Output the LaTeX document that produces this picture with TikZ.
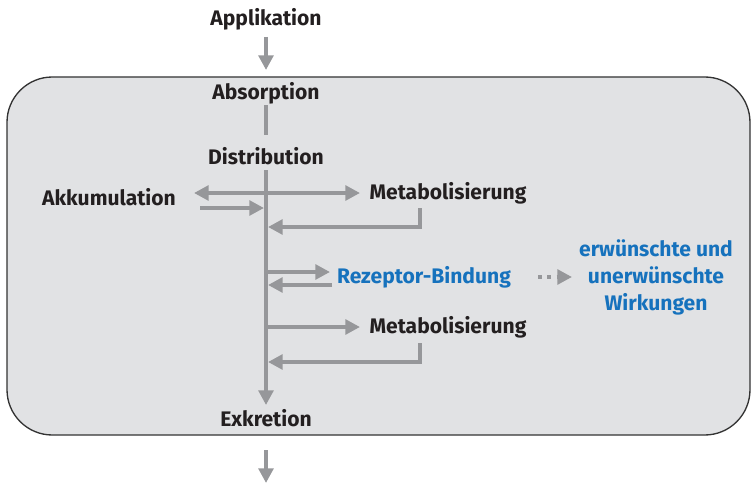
\documentclass[tikz,border=0pt]{standalone}
\usepackage{fontspec}
\setmainfont{Fira Sans}
\usetikzlibrary{arrows.meta}

\definecolor{pfeilgrau}{RGB}{150,151,154}
\definecolor{kastengrau}{RGB}{225,226,228}
\definecolor{textblau}{RGB}{22,114,189}
\definecolor{textschwarz}{RGB}{35,31,32}

\begin{document}
\begin{tikzpicture}[x=0.75pt,y=-0.75pt]
\tikzstyle{every node}+=[inner sep=0pt,font=\fontsize{15.8}{20.3}\selectfont\bfseries,text=textschwarz]
\tikzstyle{pfeil}=[draw=pfeilgrau,line width=3pt,-{Triangle[length=11pt,width=11pt]}]
\tikzstyle{linie}=[draw=pfeilgrau,line width=3pt]
\tikzstyle{punktpfeil}=[draw=pfeilgrau,line width=3pt,dash pattern=on 3pt off 4pt,-{Triangle[length=11pt,width=11pt]}]
\tikzstyle{blau}=[text=textblau,align=center]
\useasboundingbox (0,0) rectangle (753,485);
% Kasten
\draw [draw=black!80,fill=kastengrau,line width=1pt,rounded corners=34pt] (7,77) rectangle (750,435);
% Stationen
\node (appl) at (266,19) {Applikation};
\node (abs) at (266,93) {Absorption};
\node (dist) at (266,156) {Distribution};
\node (akk) at (109,197) {Akkumulation};
\node (met1) at (448,193) {Metabolisierung};
\node [blau] (rez) at (424,277) {Rezeptor-Bindung};
\node [blau] (wirk) at (656,277) {erwünschte und\\unerwünschte\\Wirkungen};
\node (met2) at (448,327) {Metabolisierung};
\node (exk) at (266,418) {Exkretion};
% Punkte
\coordinate (a0) at (266,37);
\coordinate (a1) at (266,70);
\coordinate (b0) at (266,105);
\coordinate (b1) at (266,135);
\coordinate (d0) at (266,170);
\coordinate (d1) at (266,193);
\coordinate (d2) at (268,227);
\coordinate (d3) at (266,272);
\coordinate (d4) at (268,285);
\coordinate (d5) at (266,327);
\coordinate (d6) at (268,362);
\coordinate (d7) at (266,405);
\coordinate (k0) at (194,193);
\coordinate (k1) at (200,208);
\coordinate (k2) at (264,208);
\coordinate (m0) at (360,193);
\coordinate (m1) at (420,208);
\coordinate (r0) at (330,272);
\coordinate (r1) at (332,285);
\coordinate (w0) at (538,277);
\coordinate (w1) at (572,277);
\coordinate (n0) at (360,327);
\coordinate (n1) at (420,343);
\coordinate (x0) at (266,450);
\coordinate (x1) at (266,483);
% Pfeile
\draw [pfeil] (a0) -- (a1);
\draw [linie] (b0) -- (b1);
\draw [pfeil] (d0) -- (d7);
\draw [pfeil] (d1) -- (k0);
\draw [pfeil] (d1) -- (m0);
\draw [pfeil] (k1) -- (k2);
\draw [pfeil] (m1) |- (d2);
\draw [pfeil] (d3) -- (r0);
\draw [pfeil] (r1) -- (d4);
\draw [punktpfeil] (w0) -- (w1);
\draw [pfeil] (d5) -- (n0);
\draw [pfeil] (n1) |- (d6);
\draw [pfeil] (x0) -- (x1);
\end{tikzpicture}
\end{document}
